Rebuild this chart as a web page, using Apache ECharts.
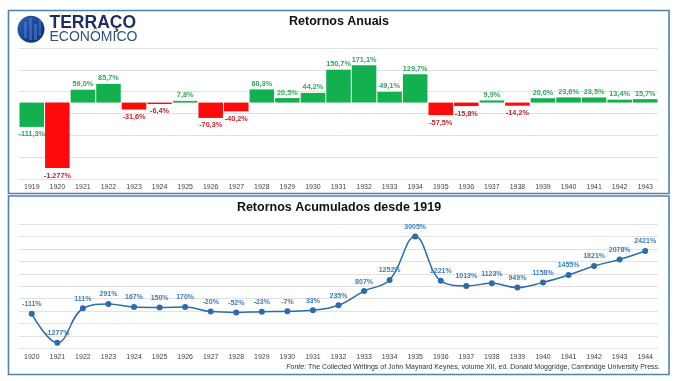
<!DOCTYPE html>
<html>
<head>
<meta charset="utf-8">
<script src="https://cdn.jsdelivr.net/npm/echarts@6/dist/echarts.min.js"></script>
<style>
html,body{margin:0;padding:0;background:#fff;}
#chart{width:678px;height:381px;}
</style>
</head>
<body>
<div id="chart"></div>
<script>
// ---- Data ----
const annualYears = ['1919','1920','1921','1922','1923','1924','1925','1926','1927','1928','1929','1930','1931','1932','1933','1934','1935','1936','1937','1938','1939','1940','1941','1942','1943'];
const annualReturns = [-111.3, -1277, 59.0, 85.7, -31.6, -6.4, 7.8, -70.3, -40.2, 60.3, 20.5, 44.2, 150.7, 171.1, 49.1, 129.7, -57.5, -15.8, 9.9, -14.2, 20.0, 23.6, 23.5, 13.4, 15.7];
const cumYears = ['1920','1921','1922','1923','1924','1925','1926','1927','1928','1929','1930','1931','1932','1933','1934','1935','1936','1937','1938','1939','1940','1941','1942','1943','1944'];
const cumReturns = [-111, -1277, 111, 291, 167, 150, 170, -20, -52, -23, -7, 33, 235, 807, 1252, 3005, 1221, 1013, 1123, 949, 1158, 1455, 1821, 2078, 2421];

const titleTop = 'Retornos Anuais';
const titleBottom = 'Retornos Acumulados desde 1919';
const sourceLabel = 'Fonte:';
const sourceText = ' The Collected Writings of John Maynard Keynes, volume XII, ed. Donald Moggridge, Cambridge University Press.';

// ---- Helpers ----
const FONT = '"Liberation Sans", Arial, sans-serif';
const barFloor = -300; // bars below this are truncated in the original chart
const GREEN = '#12b04f', RED = '#ff0a0a';
const GREEN_LBL = '#2ea85c', RED_LBL = '#c8242a';

function fmtPct(v) {
  if (Math.abs(v) >= 1000) {
    const s = Math.abs(Math.round(v)).toString().replace(/\B(?=(\d{3})+(?!\d))/g, '.');
    return (v < 0 ? '-' : '') + s + '%';
  }
  return v.toFixed(1).replace('.', ',') + '%';
}

const barData = annualReturns.map((v, i) => {
  const up = v >= 0 || i === 0; // first bar is drawn green in the original
  return {
    value: Math.max(v, barFloor),
    realValue: v,
    itemStyle: { color: up ? GREEN : RED },
    label: {
      position: v >= 0 ? 'top' : 'bottom',
      distance: v >= 0 ? 2 : 4,
      color: up ? GREEN_LBL : RED_LBL
    }
  };
});

const chart = echarts.init(document.getElementById('chart'), null, { renderer: 'canvas' });

const option = {
  backgroundColor: '#ffffff',
  animation: false,
  grid: [
    { left: 19, right: 20, top: 48, height: 131 },
    { left: 19, right: 20, top: 224.3, height: 124 }
  ],
  xAxis: [
    {
      gridIndex: 0, type: 'category', data: annualYears,
      axisLine: { show: false }, axisTick: { show: false },
      axisLabel: { fontFamily: FONT, fontSize: 7, color: '#444', margin: 5, interval: 0 }
    },
    {
      gridIndex: 1, type: 'category', data: cumYears, boundaryGap: true,
      axisLine: { show: false }, axisTick: { show: false },
      axisLabel: { fontFamily: FONT, fontSize: 7, color: '#444', margin: 5, interval: 0 }
    }
  ],
  yAxis: [
    {
      gridIndex: 0, type: 'value', min: -350, max: 250, interval: 100,
      axisLabel: { show: false }, axisLine: { show: false }, axisTick: { show: false },
      splitLine: { show: true, lineStyle: { color: '#e2e2e2', width: 1 } }
    },
    {
      gridIndex: 1, type: 'value', min: -1500, max: 3500, interval: 500,
      axisLabel: { show: false }, axisLine: { show: false }, axisTick: { show: false },
      splitLine: { show: true, lineStyle: { color: '#e2e2e2', width: 1 } }
    }
  ],
  series: [
    {
      type: 'bar', xAxisIndex: 0, yAxisIndex: 0,
      data: barData,
      barCategoryGap: '4%',
      clip: true,
      label: {
        show: true, fontFamily: FONT, fontSize: 7.3, fontWeight: 'bold',
        formatter: p => fmtPct(p.data.realValue)
      }
    },
    {
      type: 'line', xAxisIndex: 1, yAxisIndex: 1,
      data: cumReturns,
      smooth: 0.4,
      symbol: 'circle', symbolSize: 6,
      lineStyle: { color: '#2c6ca8', width: 1.5 },
      itemStyle: { color: '#2c6ca8' },
      label: {
        show: true, position: 'top', distance: 3,
        fontFamily: FONT, fontSize: 7, fontWeight: 'bold', color: '#3b7dbd',
        formatter: p => p.value + '%'
      }
    }
  ],
  graphic: [
    // panel borders
    { type: 'rect', silent: true, z: -1, shape: { x: 8.5, y: 10.5, width: 660.5, height: 183 },
      style: { fill: 'none', stroke: '#4f82b0', lineWidth: 1.6 } },
    { type: 'rect', silent: true, z: -1, shape: { x: 8.5, y: 196, width: 660.5, height: 178.5 },
      style: { fill: 'none', stroke: '#4f82b0', lineWidth: 1.6 } },
    // titles
    { type: 'text', left: 'center', top: 15.5,
      style: { text: titleTop, font: 'bold 12.5px ' + FONT, fill: '#111' } },
    { type: 'text', left: 'center', top: 201.5,
      style: { text: titleBottom, font: 'bold 12.5px ' + FONT, fill: '#111' } },
    // source
    { type: 'text', right: 18, top: 363.5,
      style: {
        text: '{i|' + sourceLabel + '}{n|' + sourceText + '}',
        rich: {
          i: { fontFamily: FONT, fontSize: 7, fontStyle: 'italic', fill: '#333' },
          n: { fontFamily: FONT, fontSize: 7, fill: '#333' }
        }
      } },
    // logo
    { type: 'circle', shape: { cx: 31, cy: 29.2, r: 13.5 },
      style: { fill: new echarts.graphic.LinearGradient(0, 0, 1, 1, [
        { offset: 0, color: '#2d63b8' }, { offset: 1, color: '#0c2a6e' }]) } },
    { type: 'rect', shape: { x: 24, y: 22, width: 3, height: 16 }, style: { fill: '#4b84d6', opacity: 0.55 } },
    { type: 'rect', shape: { x: 29, y: 18, width: 3, height: 22 }, style: { fill: '#4b84d6', opacity: 0.55 } },
    { type: 'rect', shape: { x: 34, y: 24, width: 3, height: 16 }, style: { fill: '#4b84d6', opacity: 0.55 } },
    { type: 'rect', shape: { x: 38.5, y: 20, width: 2.5, height: 16 }, style: { fill: '#4b84d6', opacity: 0.45 } },
    { type: 'text', left: 49.5, top: 14.5,
      style: { text: 'TERRAÇO', font: 'bold 17.5px ' + FONT, fill: '#1c2d5e' } },
    { type: 'text', left: 49.5, top: 30.5,
      style: { text: 'ECONÔMICO', font: '14px ' + FONT, fill: '#34507f' } }
  ]
};

chart.setOption(option);
</script>
</body>
</html>
